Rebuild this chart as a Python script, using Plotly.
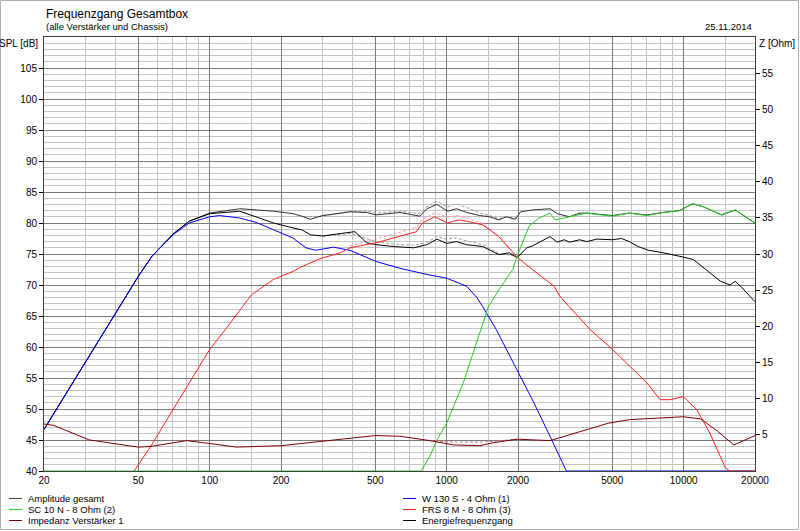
import plotly.graph_objects as go

# ---- data ----
w130_f = [20, 25, 30, 36.7, 43.3, 50, 57, 70, 82, 100, 110, 134, 157, 186, 224, 255, 280, 333, 391,
          503, 635, 826, 1000, 1215, 1340, 1420, 1620, 1980, 2300, 2730, 3200, 20000]
w130_db = [46.7, 52.7, 57.6, 63.0, 67.6, 71.4, 74.6, 78.1, 80.0, 81.0, 81.2, 80.8, 80.1, 78.9, 77.6, 76.0, 75.6, 76.1, 75.6,
           73.8, 72.7, 71.7, 71.1, 69.8, 68.0, 66.5, 62.8, 56.3, 51.5, 45.6, 40.0, 40.0]

sc10_f = [20, 780, 850, 910, 1000, 1175, 1380, 1500, 1660, 1900, 1980, 2100, 2230, 2450, 2730, 2870, 3300,
          3900, 5000, 5900, 7000, 8200, 9600, 10900, 12150, 14450, 16500, 20000]
sc10_db = [40.0, 40.0, 42.4, 45.0, 47.7, 54.2, 62.3, 66.5, 69.2, 72.5, 74.6, 77.0, 79.5, 80.8, 81.6, 80.5, 81.0,
           81.6, 81.1, 81.6, 81.2, 81.7, 82.0, 83.1, 82.6, 81.3, 82.1, 80.0]

frs8_f = [48, 56.5, 70, 85.5, 100, 118, 143, 150, 186, 225, 240, 290, 356, 391, 503, 635, 745, 790, 890,
          1010, 1120, 1215, 1420, 1660, 1900, 1980, 2300, 2730, 2840, 3000, 3300, 3540, 4030, 4950, 5900,
          7000, 7960, 8750, 9970, 11350, 12900, 15000, 15700, 20000]
frs8_db = [40.0, 44.0, 49.9, 55.3, 59.6, 63.1, 67.5, 68.4, 70.9, 72.2, 72.8, 74.2, 75.2, 76.0, 76.8, 77.8, 78.6, 80.0, 81.0,
           80.0, 80.5, 80.3, 79.7, 77.8, 75.2, 74.5, 72.5, 70.3, 69.8, 68.2, 66.5, 65.2, 62.8, 59.8, 56.9,
           54.2, 51.5, 51.5, 52.0, 49.9, 46.1, 40.5, 40.0, 40.0]

sum_f = [20, 25, 30, 36.7, 43.3, 50, 57, 70, 82, 100, 118, 134, 186, 225, 245, 266, 300, 356, 391, 460,
         503, 635, 770, 825, 910, 1010, 1100, 1215, 1380, 1520, 1660, 1780, 1950, 2050, 2300, 2730, 2930,
         3300, 3640, 3900, 5000, 5900, 7000, 8200, 9600, 10900, 12150, 14450, 16500, 20000]
sum_db = [46.7, 52.7, 57.6, 63.0, 67.6, 71.4, 74.6, 78.2, 80.3, 81.6, 82.0, 82.3, 81.9, 81.5, 81.1, 80.6, 81.2, 81.6, 81.8, 81.7,
          81.3, 81.7, 81.1, 82.3, 83.0, 81.9, 82.3, 81.7, 81.2, 81.0, 80.5, 81.0, 80.6, 81.8, 82.1, 82.3, 81.5,
          81.0, 81.6, 81.6, 81.2, 81.6, 81.3, 81.7, 82.0, 83.1, 82.6, 81.3, 82.1, 80.0]

energy_f = [20, 25, 30, 36.7, 43.3, 50, 57, 70, 82, 100, 134, 186, 225, 245, 266, 300, 356, 410, 460, 503,
            600, 725, 825, 910, 1000, 1100, 1215, 1420, 1660, 1840, 1980, 2180, 2300, 2730, 2930, 3130, 3300,
            3640, 3900, 4300, 5000, 5470, 5900, 6420, 7110, 8200, 9970, 11000, 12400, 14300, 15700, 16500,
            17400, 20000]
energy_db = [46.7, 52.7, 57.6, 63.0, 67.6, 71.4, 74.6, 78.2, 80.3, 81.5, 81.9, 80.0, 79.2, 78.9, 78.1, 77.9, 78.3, 78.6, 76.8, 76.5,
             76.2, 76.0, 76.5, 77.4, 76.7, 77.0, 76.5, 76.2, 74.9, 75.2, 74.4, 76.0, 76.3, 77.8, 76.9, 77.3, 76.9,
             77.3, 77.0, 77.4, 77.3, 77.5, 77.0, 76.2, 75.6, 75.2, 74.5, 74.1, 72.5, 70.6, 70.0, 70.6,
             69.8, 67.3]

imp_f = [20, 22, 31, 50, 56.5, 80, 100, 130, 200, 356, 500, 635, 850, 1070, 1380, 1570, 1980, 2730, 3000,
         3640, 4800, 5900, 7960, 9970, 11800, 13900, 16300, 20000]
imp_ohm = [6.5, 6.3, 4.3, 3.3, 3.4, 4.2, 3.8, 3.3, 3.5, 4.4, 4.9, 4.8, 4.2, 3.6, 3.5, 3.9, 4.4, 4.2, 4.6,
           5.4, 6.6, 7.1, 7.3, 7.5, 7.2, 5.5, 3.6, 4.9]

# older measurement, drawn dashed
sum_ref_f = [250, 300, 391, 460, 503, 635, 770, 825, 910, 1010, 1100, 1215, 1380, 1520, 1660, 1780, 1980]
sum_ref_db = [81.0, 81.1, 81.9, 81.9, 81.6, 81.9, 81.5, 82.6, 83.5, 82.6, 83.1, 82.5, 81.6, 81.2, 80.7, 81.0, 80.8]
energy_ref_f = [300, 391, 460, 503, 600, 725, 825, 910, 1000, 1100, 1215, 1420, 1660, 1980]
energy_ref_db = [77.9, 78.3, 77.5, 77.0, 76.6, 76.4, 76.9, 77.8, 77.4, 77.6, 77.1, 76.5, 75.1, 74.6]
frs8_ref_f = [391, 503, 635, 745, 790, 890, 1010, 1120, 1215, 1420, 1660, 1980]
frs8_ref_db = [76.3, 77.4, 78.5, 79.3, 80.6, 81.6, 81.0, 81.2, 80.8, 79.9, 77.9, 74.6]
imp_ref_f = [850, 1070, 1380, 1570, 1980]
imp_ref_ohm = [4.2, 4.0, 4.0, 4.1, 4.4]

x_ticks = [20, 50, 100, 200, 500, 1000, 2000, 5000, 10000, 20000]
x_minor = [30, 40, 60, 70, 80, 90, 150, 300, 400, 600, 700, 800, 900, 1500,
           3000, 4000, 6000, 7000, 8000, 9000, 15000]
spl_ticks = list(range(40, 110, 5))
z_ticks = list(range(5, 60, 5))

legend_items = [
    ("Amplitude gesamt", "#404040", 0),
    ("SC 10 N - 8 Ohm (2)", "#22cc22", 0),
    ("Impedanz Verstärker 1", "#800000", 0),
    ("W 130 S - 4 Ohm (1)", "#0000ff", 1),
    ("FRS 8 M - 8 Ohm (3)", "#ff2020", 1),
    ("Energiefrequenzgang", "#000000", 1),
]

FONT = "Liberation Sans, Arial, sans-serif"

# plot area in pixels
L, R, T, B = 44, 755, 37, 471


def px(x):
    return (x - L) / (R - L)


def py(y):
    return (B - y) / (B - T)


fig = go.Figure()

ref_line = dict(width=1, dash="3px,2px")
fig.add_trace(go.Scatter(x=sum_ref_f, y=sum_ref_db, mode="lines", line=dict(color="#9a9a9a", **ref_line)))
fig.add_trace(go.Scatter(x=energy_ref_f, y=energy_ref_db, mode="lines", line=dict(color="#9a9a9a", **ref_line)))
fig.add_trace(go.Scatter(x=frs8_ref_f, y=frs8_ref_db, mode="lines", line=dict(color="#ff9a9a", **ref_line)))
fig.add_trace(go.Scatter(x=imp_ref_f, y=imp_ref_ohm, mode="lines", yaxis="y2",
                         line=dict(color="#c08080", **ref_line)))

fig.add_trace(go.Scatter(x=sum_f, y=sum_db, mode="lines", line=dict(color="#303030", width=1)))
fig.add_trace(go.Scatter(x=energy_f, y=energy_db, mode="lines", line=dict(color="#000000", width=1)))
fig.add_trace(go.Scatter(x=w130_f, y=w130_db, mode="lines", line=dict(color="#0000ff", width=1)))
fig.add_trace(go.Scatter(x=frs8_f, y=frs8_db, mode="lines", line=dict(color="#ff2020", width=1)))
fig.add_trace(go.Scatter(x=sc10_f, y=sc10_db, mode="lines", line=dict(color="#22cc22", width=1)))
fig.add_trace(go.Scatter(x=imp_f, y=imp_ohm, mode="lines", yaxis="y2", line=dict(color="#800000", width=1)))

fig.update_traces(hoverinfo="skip")

# texts around the plot
annotations = [
    dict(text="Frequenzgang Gesamtbox", x=0, y=py(14), xanchor="left", yanchor="middle", font=dict(size=12)),
    dict(text="(alle Verstärker und Chassis)", x=0, y=py(27), xanchor="left", yanchor="middle", font=dict(size=9.5)),
    dict(text="25.11.2014", x=px(754), y=py(27), xanchor="right", yanchor="middle", font=dict(size=9.5)),
    dict(text="SPL [dB]", x=px(40), y=py(44), xanchor="right", yanchor="middle", font=dict(size=10)),
    dict(text="Z [Ohm]", x=px(757), y=py(44), xanchor="left", yanchor="middle", font=dict(size=10)),
]
shapes = [
    # outer frame of the window
    dict(type="rect", xref="paper", yref="paper", x0=px(0.5), x1=px(798.5), y0=py(529.5), y1=py(0.5),
         line=dict(color="#b0b0b0", width=1)),
]
rows = [498.5, 509.5, 520.5]
cols = [(9, 22, 26), (403, 416, 420)]
counters = [0, 0]
for name, color, col in legend_items:
    x0, x1, xt = cols[col]
    yr = rows[counters[col]]
    counters[col] += 1
    shapes.append(dict(type="line", xref="paper", yref="paper", x0=px(x0), x1=px(x1), y0=py(yr), y1=py(yr),
                       line=dict(color=color, width=1)))
    annotations.append(dict(text=name, x=px(xt), y=py(yr), xanchor="left", yanchor="middle",
                            font=dict(size=9.5)))
for a in annotations:
    a.update(xref="paper", yref="paper", showarrow=False)

fig.update_layout(
    width=800, height=531,
    margin=dict(l=L, r=800 - R, t=T, b=531 - B, autoexpand=False),
    paper_bgcolor="white", plot_bgcolor="white",
    showlegend=False,
    font=dict(family=FONT, size=10, color="#000000"),
    annotations=annotations,
    shapes=shapes,
    xaxis=dict(
        type="log", range=[1.30103, 4.30103], automargin=False,
        tickmode="array", tickvals=x_ticks, ticktext=[str(v) for v in x_ticks],
        showgrid=True, gridcolor="#7a7a7a", gridwidth=1,
        minor=dict(tickmode="array", tickvals=x_minor, showgrid=True, gridcolor="#c4c4c4", ticks=""),
        showline=True, linecolor="#404040", mirror=True,
        ticks="", tickfont=dict(size=10), zeroline=False,
    ),
    yaxis=dict(
        range=[40, 110], tickmode="array", tickvals=spl_ticks, automargin=False,
        showgrid=True, gridcolor="#7a7a7a", gridwidth=1,
        minor=dict(dtick=1, showgrid=True, gridcolor="#c4c4c4", ticks=""),
        ticks="outside", ticklen=4, tickcolor="#000000",
        showline=True, linecolor="#404040", mirror=True,
        tickfont=dict(size=10), zeroline=False,
    ),
    yaxis2=dict(
        overlaying="y", side="right", range=[0, 60], automargin=False,
        tickmode="array", tickvals=z_ticks, showgrid=False,
        ticks="outside", ticklen=4, tickcolor="#000000",
        tickfont=dict(size=10), zeroline=False,
    ),
)

# the page body has a default margin that would push the figure out of the window
fig.write_html("out.html", config={"displayModeBar": False},
               post_script="document.body.style.margin = '0';")
